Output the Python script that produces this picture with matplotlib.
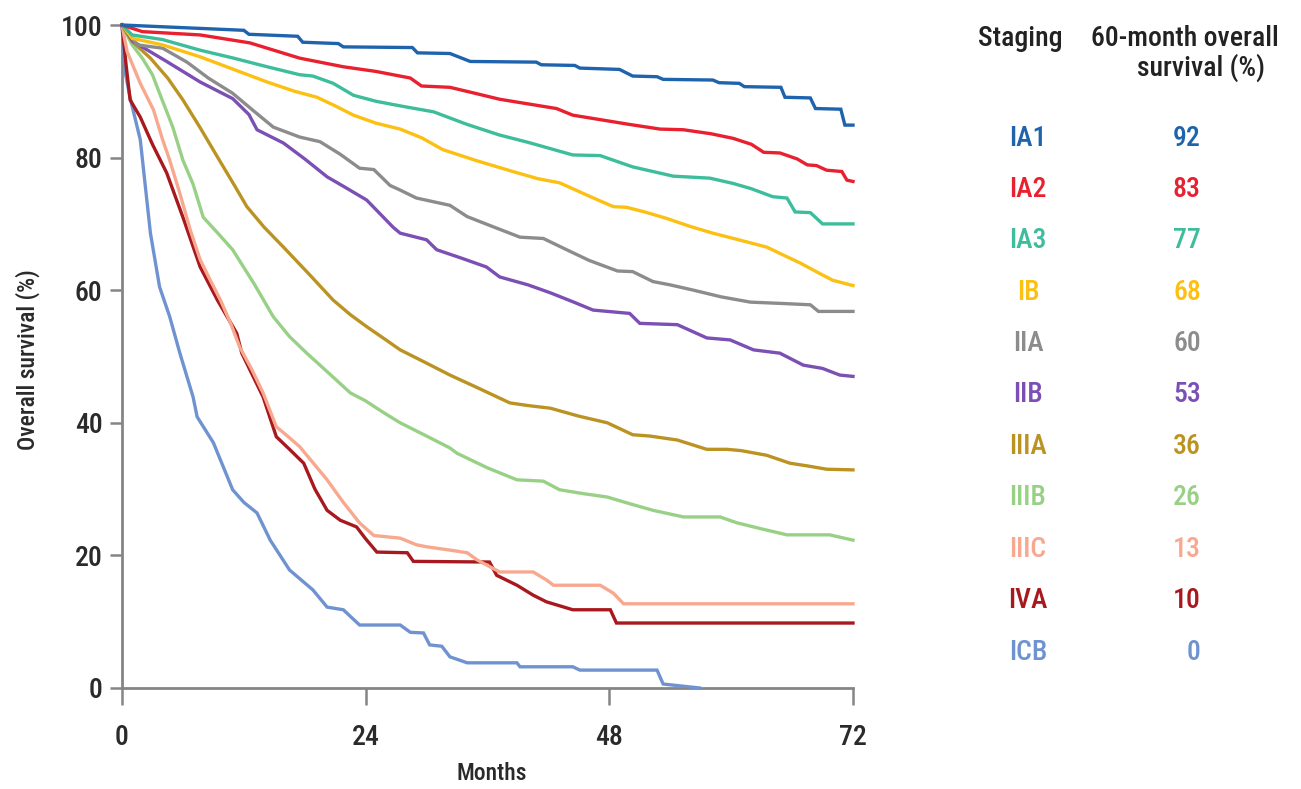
import matplotlib
matplotlib.use("Agg")
import matplotlib.pyplot as plt
from matplotlib import font_manager

names = {f.name for f in font_manager.fontManager.ttflist}
FONT = next((f for f in ["Roboto Condensed", "Archivo Narrow", "PT Sans Narrow"] if f in names), "DejaVu Sans")
plt.rcParams["font.family"] = [FONT, "DejaVu Sans"]
plt.rcParams["font.weight"] = "medium"

# ---------------- data ----------------
stages = ["IA1", "IA2", "IA3", "IB", "IIA", "IIB", "IIIA", "IIIB", "IIIC", "IVA", "ICB"]
os60 = ["92", "83", "77", "68", "60", "53", "36", "26", "13", "10", "0"]
colors = ["#1f63ad", "#e8202f", "#3dbd9c", "#fcc012", "#8c8c8c", "#7b4fb3",
          "#bb9322", "#98d186", "#f8a88e", "#a8191f", "#6f93d0"]

t_IA1 = [0, 12.0, 12.5, 17.3, 17.8, 21.3, 21.8, 28.6, 29.1, 32.3, 34.3, 40.8, 41.3, 44.6, 45.1, 49.0,
         50.3, 52.7, 53.3, 58.2, 58.8, 60.8, 61.3, 64.9, 65.3, 67.8, 68.3, 70.8, 71.2, 72]
s_IA1 = [100, 99.2, 98.6, 98.3, 97.4, 97.2, 96.7, 96.6, 95.8, 95.7, 94.5, 94.4, 94.0, 93.9, 93.5, 93.3,
         92.3, 92.2, 91.8, 91.7, 91.3, 91.2, 90.7, 90.6, 89.1, 89.0, 87.4, 87.3, 84.9, 84.9]

t_IA2 = [0, 2, 7.7, 12.6, 17.5, 21.8, 25, 28.4, 29.5, 32.3, 34.5, 37.2, 40, 42.8, 44.4, 48, 50, 53,
         55.3, 58, 60.2, 62, 63.2, 64.8, 66.5, 67.5, 68.4, 69.4, 70.9, 71.4, 72]
s_IA2 = [100, 99.0, 98.5, 97.3, 95.0, 93.7, 93.0, 92.0, 90.8, 90.6, 89.8, 88.8, 88.1, 87.4, 86.4, 85.5,
         85.0, 84.3, 84.2, 83.6, 82.9, 82.0, 80.8, 80.7, 79.8, 78.9, 78.8, 78.1, 77.9, 76.6, 76.4]

t_IA3 = [0, 1, 4, 7.7, 11, 14.3, 17.5, 18.8, 20.8, 22.8, 25, 27.4, 30.7, 34, 37.2, 40, 44.4, 47.1,
         50.3, 54.3, 57.9, 60.2, 62, 64.1, 65.5, 66.3, 67.8, 69, 72]
s_IA3 = [100, 98.5, 97.8, 96.2, 95.0, 93.7, 92.5, 92.3, 91.2, 89.4, 88.5, 87.8, 86.9, 85.0, 83.4, 82.3,
         80.4, 80.3, 78.6, 77.2, 76.9, 76.1, 75.3, 74.1, 73.9, 71.8, 71.7, 70.0, 70.0]

t_IB = [0, 1, 4, 7.7, 11, 14.3, 17, 19.2, 21, 22.8, 25, 27.4, 29.5, 31.6, 35, 38.5, 41, 43.1, 46,
        48.4, 49.7, 51.5, 53.7, 56, 58.2, 61, 63.5, 65, 66.8, 68.5, 70, 72]
s_IB = [100, 98, 97, 95.2, 93.3, 91.4, 90, 89.1, 87.8, 86.4, 85.2, 84.3, 83.0, 81.2, 79.5, 77.9, 76.8,
        76.2, 74.2, 72.6, 72.5, 71.8, 70.8, 69.6, 68.6, 67.5, 66.5, 65.4, 64.1, 62.7, 61.5, 60.7]

t_IIA = [0, 1.5, 4, 6.4, 8.5, 10.9, 13, 14.9, 17.5, 19.5, 21.5, 23.4, 24.8, 26.4, 27.4, 29, 32.3, 34,
         36.5, 39.2, 41.5, 43.8, 46, 48.8, 50.3, 52.3, 54, 56.3, 59, 61.9, 65, 67.8, 68.6, 72]
s_IIA = [100, 97, 96.5, 94.4, 92, 89.7, 87, 84.6, 83.1, 82.4, 80.5, 78.4, 78.2, 75.8, 75.1, 73.9, 72.8,
         71.1, 69.6, 68.0, 67.8, 66.1, 64.5, 62.9, 62.8, 61.3, 60.8, 60.0, 59.0, 58.2, 58.0, 57.8, 56.8, 56.8]

t_IIB = [0, 1.1, 4.4, 7.7, 10.9, 12.5, 13.3, 15.9, 18, 20.2, 22, 24.1, 26.7, 27.4, 30, 31, 33.5, 35.9,
         37.2, 40, 42.2, 44.5, 46.4, 50, 51, 54.7, 57.6, 59.9, 62.2, 64.8, 67.1, 69, 70.7, 72]
s_IIB = [100, 97.5, 94.5, 91.4, 88.9, 86.5, 84.2, 82.2, 79.8, 77.1, 75.5, 73.6, 69.5, 68.6, 67.6, 66.1,
         64.8, 63.5, 62.0, 60.8, 59.6, 58.2, 57.0, 56.5, 55.0, 54.8, 52.8, 52.5, 51.0, 50.5, 48.7, 48.2, 47.2, 47.0]

t_IIIA = [0, 1, 2.8, 4.5, 6, 7.7, 9.4, 11, 12.3, 14, 15.9, 18.5, 20.8, 22.5, 24.1, 26, 27.4, 30, 32.3,
          35, 38.2, 40, 42.2, 45, 47.8, 50.3, 52, 54.7, 57.6, 59.6, 61, 63.5, 65.8, 67.5, 69.4, 72]
s_IIIA = [100, 97.5, 95, 92, 88.7, 84.5, 80.1, 76, 72.6, 69.5, 66.5, 62.3, 58.5, 56.3, 54.5, 52.5, 51,
          49, 47.2, 45.3, 43, 42.6, 42.2, 41, 40, 38.2, 38, 37.4, 36, 36, 35.8, 35.1, 33.9, 33.5, 33, 32.9]

t_IIIB = [0, 1, 2, 3, 3.7, 5, 6, 7, 8, 9.5, 10.9, 13, 14.9, 16.5, 18.2, 20.5, 22.5, 24, 25.7, 27.4, 30,
          32.3, 33, 36, 38.9, 41.5, 43.1, 45.5, 47.8, 50, 52.3, 55.3, 58.9, 60.6, 63, 65.5, 69.7, 72]
s_IIIB = [100, 97, 95, 92.5, 89.7, 84.6, 79.6, 76, 71, 68.5, 66.1, 61, 56, 53, 50.5, 47.3, 44.5, 43.3,
          41.6, 40, 38, 36.2, 35.4, 33.2, 31.4, 31.2, 29.9, 29.3, 28.8, 27.8, 26.8, 25.8, 25.8, 24.9, 24.0,
          23.1, 23.1, 22.3]

t_IIIC = [0, 0.5, 1.8, 3.1, 4, 4.7, 5.7, 6.7, 7.7, 8.7, 9.7, 10.7, 11.6, 12.8, 13.9, 15.2, 16.3, 17.5,
          18.8, 20.2, 21.8, 23.4, 24.8, 27.4, 29, 30, 32.3, 34, 35, 37.2, 40.5, 41.8, 42.5, 47.1, 48.4,
          49.4, 72]
s_IIIC = [100, 96, 91.2, 87.2, 82.7, 79.6, 74.6, 69.2, 64.6, 61.5, 58.5, 55, 51.4, 48, 44.5, 39.4, 38,
          36.4, 34, 31.4, 28, 24.9, 23, 22.6, 21.6, 21.3, 20.8, 20.4, 19.3, 17.5, 17.5, 16.3, 15.5, 15.5,
          14.3, 12.7, 12.7]

t_IVA = [0, 0.4, 0.8, 1.8, 3, 4.4, 6, 7.7, 9.4, 11.3, 11.8, 13.9, 15.2, 16.5, 17.9, 19, 20.2, 21.5,
         23.1, 24, 25.1, 28.1, 28.7, 36.2, 36.9, 38.9, 40.5, 41.8, 44.4, 48.1, 48.7, 72]
s_IVA = [100, 94, 88.7, 86.1, 82, 77.7, 71, 63.5, 58.5, 53.5, 50.5, 43.9, 37.9, 36, 33.9, 30, 26.8,
         25.3, 24.3, 22.5, 20.5, 20.4, 19.1, 19, 17, 15.5, 14, 13, 11.8, 11.8, 9.8, 9.8]

t_ICB = [0, 0.3, 0.8, 1.8, 2.8, 3.7, 4.7, 5.7, 7, 7.4, 9, 10.9, 12, 13.3, 14.6, 16.5, 18.8, 20.2, 21.8,
         23.4, 27.4, 28.4, 29.7, 30.3, 31.5, 32.3, 34, 38.9, 39.2, 44.4, 45.1, 52.7, 53.3, 56.9]
s_ICB = [100, 93, 89, 82.7, 68.6, 60.5, 56, 50.5, 43.9, 40.9, 37, 29.9, 28, 26.4, 22.3, 17.8, 14.8,
         12.2, 11.8, 9.5, 9.5, 8.4, 8.3, 6.5, 6.3, 4.7, 3.8, 3.8, 3.2, 3.2, 2.7, 2.7, 0.6, 0.0]

times = [t_IA1, t_IA2, t_IA3, t_IB, t_IIA, t_IIB, t_IIIA, t_IIIB, t_IIIC, t_IVA, t_ICB]
survs = [s_IA1, s_IA2, s_IA3, s_IB, s_IIA, s_IIB, s_IIIA, s_IIIB, s_IIIC, s_IVA, s_ICB]

xticks = [0, 24, 48, 72]
yticks = [0, 20, 40, 60, 80, 100]

# ---------------- figure ----------------
W, H = 1301, 789
fig = plt.figure(figsize=(W / 100, H / 100), dpi=100)
L, R, T, B = 122, 853, 25, 688
ax = fig.add_axes([L / W, 1 - B / H, (R - L) / W, (B - T) / H])

for i in range(len(stages) - 1, -1, -1):
    ax.plot(times[i], survs[i], color=colors[i], lw=2.4, solid_joinstyle="miter",
            clip_on=False, zorder=3 + (len(stages) - i) * 0.01)

ax.set_xlim(0, 72)
ax.set_ylim(0, 100)
ax.set_xticks(xticks)
ax.set_yticks(yticks)
ax.set_xticklabels([str(v) for v in xticks])
ax.set_yticklabels([str(v) for v in yticks])

spine_c = "#858585"
for side in ["top", "right"]:
    ax.spines[side].set_visible(False)
for side in ["left", "bottom"]:
    ax.spines[side].set_color(spine_c)
    ax.spines[side].set_linewidth(2.0)

txt_c = "#2a2a2a"
ax.tick_params(axis="y", direction="out", length=9, width=1.8, color=spine_c,
               labelsize=20, labelcolor=txt_c, pad=5)
ax.tick_params(axis="x", direction="out", length=12, width=1.8, color=spine_c,
               labelsize=20, labelcolor=txt_c, pad=14)

def px(x, y):
    return x / W, 1 - y / H

fig.text(*px(28, 360), "Overall survival (%)", rotation=90, ha="center", va="center",
         fontsize=17, color=txt_c)
fig.text(*px(492, 774), "Months", ha="center", va="center", fontsize=17, color=txt_c)

# legend table
hdr_c = "#222222"
fig.text(*px(1020, 38), "Staging", ha="center", va="center", fontsize=20, color=hdr_c)
fig.text(*px(1185, 38), "60-month overall", ha="center", va="center", fontsize=20, color=hdr_c)
fig.text(*px(1265, 68), "survival (%)", ha="right", va="center", fontsize=20, color=hdr_c)

row0, dy = 138, 51.4
for i, (st, v) in enumerate(zip(stages, os60)):
    y = row0 + i * dy
    fig.text(*px(1028, y), st, ha="center", va="center", fontsize=20, color=colors[i])
    fig.text(*px(1201, y), v, ha="right", va="center", fontsize=20, color=colors[i])

fig.savefig("out.png", dpi=100)
